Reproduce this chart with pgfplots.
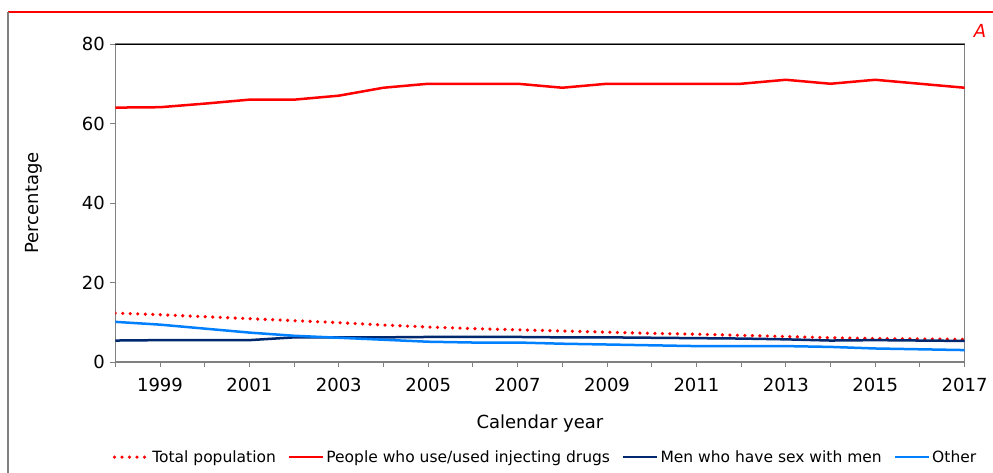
\documentclass[border=0pt]{standalone}
\usepackage{fontspec}
\setmainfont{DejaVu Sans}
\usepackage{pgfplots}
\pgfplotsset{compat=1.18}

\definecolor{idured}{RGB}{255,0,0}
\definecolor{msmblue}{RGB}{0,40,110}
\definecolor{otherblue}{RGB}{0,128,255}
\definecolor{axisgray}{RGB}{128,128,128}

\pgfplotstableread{
year total idu msm other
1998 12.3 64.0 5.4 10.1
1999 11.9 64.1 5.5 9.4
2000 11.4 65.0 5.5 8.4
2001 10.9 66.0 5.5 7.4
2002 10.4 66.0 6.2 6.6
2003 9.9 67.0 6.2 6.1
2004 9.3 69.0 6.2 5.6
2005 8.8 70.0 6.3 5.1
2006 8.4 70.0 6.3 4.9
2007 8.1 70.0 6.3 4.9
2008 7.8 69.0 6.2 4.6
2009 7.5 70.0 6.2 4.4
2010 7.2 70.0 6.1 4.2
2011 7.0 70.0 6.0 4.0
2012 6.7 70.0 5.9 4.0
2013 6.4 71.0 5.7 4.0
2014 6.1 70.0 5.4 3.8
2015 5.9 71.0 5.5 3.4
2016 5.8 70.0 5.4 3.2
2017 5.7 69.0 5.3 3.0
}\datatable

\begin{document}
\begin{tikzpicture}
\useasboundingbox (0,0) rectangle (993pt,-473pt);
\draw[idured, line width=1.5pt] (8pt,-12pt) -- (993pt,-12pt);
\draw[axisgray, line width=1.2pt] (8pt,-12pt) -- (8pt,-473pt);
\node[text=idured, font=\fontsize{18}{20}\selectfont\itshape] at (980pt,-31pt) {A};
\begin{axis}[
  at={(115.3pt,-362pt)}, anchor=south west,
  scale only axis,
  width=849.3pt, height=318pt,
  xmin=1998, xmax=2017,
  ymin=0, ymax=80,
  xtick={1999,2001,...,2017},
  minor xtick={1998,2000,...,2016},
  ytick={0,20,40,60,80},
  xtick pos=bottom, ytick pos=left,
  tick align=outside,
  major tick length=5pt, minor tick length=5pt,
  every tick/.style={axisgray, line width=1pt},
  axis line style={axisgray, line width=1.2pt},
  /pgf/number format/1000 sep={},
  /pgf/number format/assume math mode=true,
  ticklabel style={font=\fontsize{18}{20}\selectfont},
  xticklabel style={yshift=-8pt},
  yticklabel style={xshift=-2pt},
  label style={font=\fontsize{18}{20}\selectfont},
  xlabel={Calendar year},
  ylabel={Percentage},
  xlabel style={yshift=-16pt},
  ylabel style={yshift=33pt},
  legend columns=4,
  legend style={at={(0.5065,-0.299)}, anchor=center, draw=none,
    font=\fontsize{15.5}{18}\selectfont,
    /tikz/every even column/.append style={column sep=10pt}},
  legend image code/.code={\draw[#1] (0pt,0pt) -- (34pt,0pt);},
]
\addplot[idured, line width=3.6pt, line cap=round, dash pattern=on 0pt off 7.5pt] table[x=year, y=total] {\datatable};
\addlegendentry{Total population}
\addplot[idured, line width=2.5pt] table[x=year, y=idu] {\datatable};
\addlegendentry{People who use/used injecting drugs}
\addplot[msmblue, line width=2.5pt] table[x=year, y=msm] {\datatable};
\addlegendentry{Men who have sex with men}
\addplot[otherblue, line width=2.5pt] table[x=year, y=other] {\datatable};
\addlegendentry{Other}
\draw[black, line width=1.2pt] (rel axis cs:0,1) -- (rel axis cs:1,1);
\end{axis}
\end{tikzpicture}
\end{document}
